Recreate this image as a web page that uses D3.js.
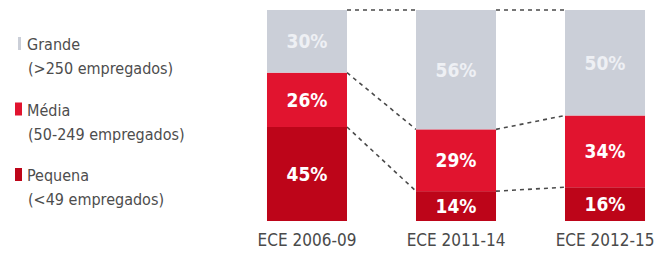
<!DOCTYPE html>
<html>
<head>
<meta charset="utf-8">
<script src="https://cdn.jsdelivr.net/npm/d3@7"></script>
<style>
  body { margin: 0; background: #fff; }
  svg { display: block; }
  text { font-family: "DejaVu Sans Condensed", "DejaVu Sans", sans-serif; }
</style>
</head>
<body>
<svg id="chart"></svg>
<script>
// data (share of companies, %)
const periods = ["ECE 2006-09", "ECE 2011-14", "ECE 2012-15"];
const grande  = [30, 56, 50];
const media   = [26, 29, 34];
const pequena = [45, 14, 16];

const sizes = ["pequena", "media", "grande"];
const legendTitles = ["Grande", "Média", "Pequena"];
const legendNotes = ["(>250 empregados)", "(50-249 empregados)", "(<49 empregados)"];

const colors = { grande: "#cbcfd8", media: "#e1142f", pequena: "#bd0519" };

const width = 672, height = 254;
const svg = d3.select("#chart").attr("width", width).attr("height", height);

const rows = periods.map((p, i) => ({ period: p, grande: grande[i], media: media[i], pequena: pequena[i] }));
// bars are drawn full height, so each column is normalised to its own total
const stack = d3.stack().keys(sizes).offset(d3.stackOffsetExpand);
const series = stack(rows);

const x = d3.scaleBand().domain(periods).range([198, 714]).padding(0.463);
const y = d3.scaleLinear().domain([0, 1]).range([221, 10]);

// dashed connectors between neighbouring bars
const connectors = [];
series.forEach(s => {
  for (let i = 0; i < periods.length - 1; i++) {
    connectors.push({
      x1: x(periods[i]) + x.bandwidth(), y1: y(s[i][1]),
      x2: x(periods[i + 1]), y2: y(s[i + 1][1])
    });
  }
});
svg.append("g").selectAll("line")
  .data(connectors)
  .join("line")
  .attr("x1", d => d.x1).attr("y1", d => d.y1)
  .attr("x2", d => d.x2).attr("y2", d => d.y2)
  .attr("stroke", "#4a4a4a")
  .attr("stroke-width", 1.6)
  .attr("stroke-dasharray", "4,4");

const groups = svg.append("g").selectAll("g")
  .data(series)
  .join("g")
  .attr("fill", s => colors[s.key]);

groups.selectAll("rect")
  .data(s => s.map((d, i) => ({ key: s.key, period: periods[i], y0: d[0], y1: d[1] })))
  .join("rect")
  .attr("x", d => x(d.period))
  .attr("width", x.bandwidth())
  .attr("y", d => y(d.y1))
  .attr("height", d => y(d.y0) - y(d.y1));

groups.selectAll("text")
  .data(s => s.map((d, i) => ({ key: s.key, period: periods[i], y0: d[0], y1: d[1], v: d.data[s.key] })))
  .join("text")
  .attr("x", d => x(d.period) + x.bandwidth() / 2)
  .attr("y", d => (y(d.y0) + y(d.y1)) / 2)
  .attr("dy", "0.36em")
  .attr("text-anchor", "middle")
  .style("font-size", "19px")
  .style("font-weight", "bold")
  .attr("fill", d => d.key === "grande" ? "#eef0f4" : "#ffffff")
  .text(d => d.v + "%");

// category axis, no line or ticks
const xAxis = svg.append("g")
  .attr("transform", "translate(0, 233)")
  .call(d3.axisBottom(x).tickSize(0).tickPadding(0));
xAxis.select(".domain").remove();
xAxis.selectAll("text")
  .attr("dy", "0.75em")
  .style("font-size", "17px")
  .style("font-family", "'DejaVu Sans Condensed', sans-serif")
  .attr("fill", "#4a4a4a");

// legend
const legendKeys = ["grande", "media", "pequena"];
const legend = svg.append("g").selectAll("g")
  .data(legendKeys)
  .join("g")
  .attr("transform", (d, i) => `translate(15, ${50 + i * 65.5})`);

legend.append("rect")
  .attr("x", d => d === "grande" ? 3 : 0)
  .attr("y", -13)
  .attr("width", d => d === "grande" ? 3 : 7)
  .attr("height", 13)
  .attr("fill", d => colors[d]);

legend.append("text")
  .attr("x", 12)
  .attr("y", 0)
  .style("font-size", "16px")
  .attr("fill", "#4d4d4d")
  .text((d, i) => legendTitles[i]);

legend.append("text")
  .attr("x", 13)
  .attr("y", 24)
  .style("font-size", "16px")
  .attr("fill", "#4d4d4d")
  .text((d, i) => legendNotes[i]);
</script>
</body>
</html>
